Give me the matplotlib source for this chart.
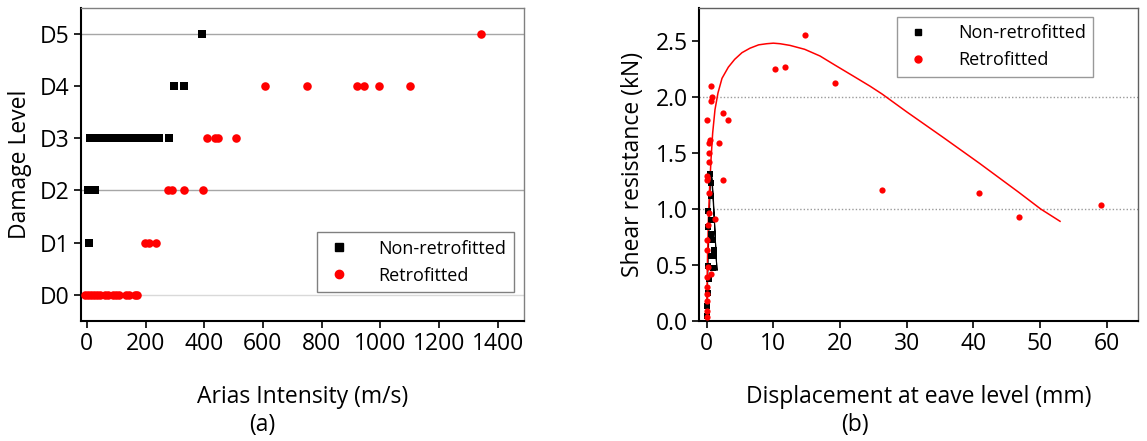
import matplotlib
matplotlib.use("Agg")
import matplotlib.pyplot as plt
from matplotlib.lines import Line2D

plt.rcParams['font.family'] = ['Open Sans', 'DejaVu Sans']

# ---------------- Panel (a) data ----------------
damage_labels = ["D0", "D1", "D2", "D3", "D4", "D5"]

nonretro_x = [394,
              297, 330,
              12, 20, 28, 36, 44, 52, 60, 68, 76, 84, 92, 100, 108, 116, 124, 132, 140,
              148, 156, 164, 172, 180, 192, 200, 208, 216, 224, 232, 240, 247, 279,
              4, 12, 20, 27,
              6]
nonretro_lvl = [5,
                4, 4,
                3, 3, 3, 3, 3, 3, 3, 3, 3, 3, 3, 3, 3, 3, 3, 3, 3,
                3, 3, 3, 3, 3, 3, 3, 3, 3, 3, 3, 3, 3, 3,
                2, 2, 2, 2,
                1]

retro_x = [1344,
           606, 750, 922, 946, 996, 1100,
           409, 438, 447, 507,
           276, 291, 330, 396,
           198, 212, 236,
           -5, 5, 15, 25, 35, 45, 62, 72, 90, 100, 110, 135, 145, 165, 171]
retro_lvl = [5,
             4, 4, 4, 4, 4, 4,
             3, 3, 3, 3,
             2, 2, 2, 2,
             1, 1, 1,
             0, 0, 0, 0, 0, 0, 0, 0, 0, 0, 0, 0, 0, 0, 0]

# ---------------- Panel (b) data ----------------
nr_pts_x = [0.5, 0.65, 0.6, 0.15, 0.65, 0.2, 0.6, 0.85, 1.15, 1.15, 0.6, 0.15, 1.0, 0.3, 0.15, 0.1, 0.05]
nr_pts_y = [1.31, 1.23, 1.12, 0.98, 0.90, 0.84, 0.78, 0.72, 0.63, 0.58, 0.58, 0.49, 0.47, 0.37, 0.25, 0.13, 0.04]

nr_line_x = [0.0, 0.1, 0.25, 0.4, 0.55, 0.7, 0.8, 1.0, 1.2, 1.4, 1.55, 1.45, 1.2, 0.9, 0.7]
nr_line_y = [0.0, 0.25, 0.6, 0.95, 1.2, 1.3, 1.28, 1.1, 0.85, 0.6, 0.45, 0.55, 0.85, 1.15, 1.3]

r_pts_x = [14.7, 10.3, 11.8, 19.2, 26.3, 40.9, 46.8, 59.2,
           2.4, 3.2, 1.8, 2.5, 1.2,
           0.6, 0.75, 0.6, 0.1, 0.5, 0.3, 0.3, 0.3, 0.1, 0.0, 0.4, 0.3, 0.2,
           0.1, 0.0, 0.2, 0.1, 0.6, 0.1, 0.1, 0.1, 0.1, 0.05]
r_pts_y = [2.56, 2.25, 2.27, 2.13, 1.17, 1.14, 0.93, 1.04,
           1.86, 1.80, 1.59, 1.26, 0.91,
           2.10, 2.00, 1.97, 1.80, 1.62, 1.59, 1.50, 1.42, 1.30, 1.26, 1.14, 0.96, 0.86,
           0.72, 0.63, 0.48, 0.39, 0.42, 0.30, 0.24, 0.18, 0.09, 0.03]

r_curve_x = [0.0, 0.1, 0.27, 0.45, 0.65, 0.9, 1.25, 1.7, 2.3, 3.25, 4.2, 5.3, 6.5, 7.8,
             9.0, 10.0, 11.0, 12.5, 14.7, 17.0, 19.2, 22.0, 24.5, 26.3, 30.0, 35.5,
             40.9, 46.8, 50.1, 53.0]
r_curve_y = [0.0, 0.48, 0.93, 1.2, 1.44, 1.68, 1.89, 2.04, 2.17, 2.27, 2.34, 2.40, 2.44, 2.47,
             2.48, 2.485, 2.48, 2.465, 2.43, 2.37, 2.29, 2.19, 2.10, 2.03, 1.87, 1.64,
             1.41, 1.15, 1.00, 0.89]

xticks_a = [0, 200, 400, 600, 800, 1000, 1200, 1400]
xticks_b = [0, 10, 20, 30, 40, 50, 60]
yticks_b = [0.0, 0.5, 1.0, 1.5, 2.0, 2.5]

FS = 16.5

fig = plt.figure(figsize=(11.47, 4.41), dpi=100)

# ---------------- Panel (a) ----------------
ax1 = fig.add_axes([0.0706, 0.2728, 0.3862, 0.7091])
for lvl, c in [(5, '#a6a6a6'), (2, '#a6a6a6'), (0, '#d9d9d9')]:
    ax1.axhline(lvl, color=c, lw=1.0, zorder=0)
ax1.scatter(nonretro_x, nonretro_lvl, marker='s', s=34, color='black', zorder=3,
            linewidths=0, label='Non-retrofitted')
ax1.scatter(retro_x, retro_lvl, marker='o', s=38, color='#ff0000', zorder=3,
            linewidths=0, label='Retrofitted')
ax1.set_xlim(-20, 1490)
ax1.set_ylim(-0.5, 5.5)
ax1.set_yticks(range(6))
ax1.set_yticklabels(damage_labels)
ax1.set_xticks(xticks_a)
ax1.tick_params(axis='both', labelsize=FS, direction='out', length=5, width=1.2, pad=3)
ax1.set_ylabel('Damage Level', fontsize=FS, labelpad=6)
ax1.set_xlabel('Arias Intensity (m/s)', fontsize=FS, labelpad=21)
for s in ['left', 'bottom']:
    ax1.spines[s].set_linewidth(1.5)
    ax1.spines[s].set_color('black')
for s in ['top', 'right']:
    ax1.spines[s].set_linewidth(1.0)
    ax1.spines[s].set_color('#808080')
h1 = [Line2D([], [], marker='s', color='black', ls='none', markersize=6),
      Line2D([], [], marker='o', color='#ff0000', ls='none', markersize=6)]
leg1 = ax1.legend(h1, ['Non-retrofitted', 'Retrofitted'], loc='lower right',
                  bbox_to_anchor=(0.977, 0.092), borderaxespad=0, fontsize=13,
                  frameon=True, fancybox=False, edgecolor='#606060', handletextpad=1.4,
                  borderpad=0.4, labelspacing=0.5, handlelength=1.6)
leg1.get_frame().set_linewidth(1.0)

# ---------------- Panel (b) ----------------
ax2 = fig.add_axes([0.6097, 0.2728, 0.3825, 0.7091])
for yv in [1.0, 2.0]:
    ax2.axhline(yv, color='#9a9a9a', lw=1.0, ls=(0, (1, 1.5)), zorder=0)
ax2.plot(nr_line_x, nr_line_y, color='black', lw=0.8, zorder=2)
ax2.plot(r_curve_x, r_curve_y, color='#ff0000', lw=1.1, zorder=2)
ax2.scatter(nr_pts_x, nr_pts_y, marker='s', s=16, color='black', linewidths=0, zorder=3)
ax2.scatter(r_pts_x, r_pts_y, marker='o', s=20, color='#ff0000', linewidths=0, zorder=4)
ax2.set_xlim(-1.1, 64.7)
ax2.set_ylim(0, 2.8)
ax2.set_xticks(xticks_b)
ax2.set_yticks(yticks_b)
ax2.set_yticklabels([f'{v:.1f}' for v in yticks_b])
ax2.tick_params(axis='both', labelsize=FS, direction='out', length=5, width=1.2, pad=3)
ax2.set_ylabel('Shear resistance (kN)', fontsize=FS, labelpad=8)
ax2.set_xlabel('Displacement at eave level (mm)', fontsize=FS, labelpad=21)
for s in ['left', 'bottom']:
    ax2.spines[s].set_linewidth(1.5)
    ax2.spines[s].set_color('black')
for s in ['top', 'right']:
    ax2.spines[s].set_linewidth(1.0)
    ax2.spines[s].set_color('#606060')
h2 = [Line2D([], [], marker='s', color='black', ls='none', markersize=5),
      Line2D([], [], marker='o', color='#ff0000', ls='none', markersize=5)]
leg2 = ax2.legend(h2, ['Non-retrofitted', 'Retrofitted'], loc='upper right',
                  bbox_to_anchor=(0.898, 0.971), borderaxespad=0, fontsize=13,
                  frameon=True, fancybox=False, edgecolor='#808080', handletextpad=1.4,
                  borderpad=0.4, labelspacing=0.5, handlelength=1.6)
leg2.get_frame().set_linewidth(1.0)

# captions
fig.text(262 / 1147, 1 - 425 / 441, '(a)', fontsize=FS, ha='center', va='center')
fig.text(855 / 1147, 1 - 425 / 441, '(b)', fontsize=FS, ha='center', va='center')

fig.savefig('out.png', dpi=100)
